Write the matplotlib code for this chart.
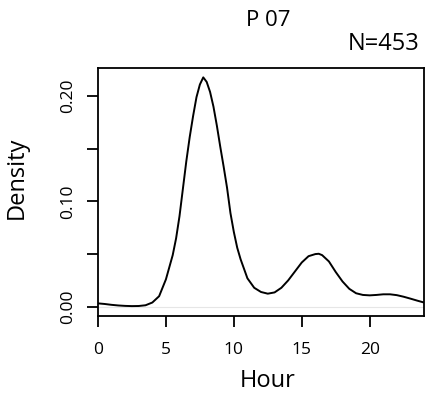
import numpy as np
import matplotlib
matplotlib.use('Agg')
import matplotlib.pyplot as plt

plt.rcParams['font.family'] = ['Open Sans', 'DejaVu Sans']

# density curve
hour = [0.0, 0.5, 1.0, 1.5, 2.0, 2.5, 3.0, 3.5, 4.0, 4.5, 5.0, 5.5, 5.75,
        6.0, 6.25, 6.5, 6.75, 7.0, 7.25, 7.5, 7.75, 8.0, 8.25, 8.5, 8.75,
        9.0, 9.25, 9.5, 9.75, 10.0, 10.25,
        10.5, 11.0, 11.5, 12.0, 12.5, 13.0, 13.5, 14.0, 14.5, 15.0, 15.5,
        16.0, 16.25, 16.5, 17.0, 17.5, 18.0, 18.5, 19.0, 19.5, 20.0, 20.5,
        21.0, 21.5, 22.0, 22.5, 23.0, 23.5, 24.0]
density = [0.0032, 0.0026, 0.0018, 0.0012, 0.0008, 0.0006, 0.0007, 0.0014,
           0.0040, 0.0100, 0.0260, 0.0490, 0.0650,
           0.0860, 0.1120, 0.1380, 0.1610, 0.1810, 0.1990, 0.2110, 0.2178,
           0.2135, 0.2040, 0.1900, 0.1720,
           0.1520, 0.1330, 0.1130, 0.0890, 0.0710, 0.0560,
           0.0450, 0.0270, 0.0180, 0.0140, 0.0124, 0.0136, 0.0180, 0.0250,
           0.0335, 0.0420, 0.0480,
           0.0500, 0.0503, 0.0490, 0.0430, 0.0330, 0.0240, 0.0170, 0.0128,
           0.0112, 0.0108, 0.0112,
           0.0118, 0.0118, 0.0110, 0.0095, 0.0077, 0.0058, 0.0040]

title = 'P 07'
n_label = 'N=453'
yticks = [0.0, 0.05, 0.10, 0.15, 0.20]
ytick_labels = ['0.00', '', '0.10', '', '0.20']
xticks = [0, 5, 10, 15, 20]

fig = plt.figure(figsize=(4.25, 3.98), dpi=100)
ax = fig.add_axes([98 / 425, 1 - 316 / 398, 326 / 425, 248 / 398])

ax.axhline(0, color='#e6e6e6', lw=0.8, zorder=1)
ax.plot(hour, density, color='black', lw=1.4, zorder=2)

ax.set_xlim(0, 24)
ax.set_ylim(-0.0088, 0.2267)

ax.set_xticks(xticks)
ax.set_xticklabels([str(x) for x in xticks], fontsize=12.5)
ax.set_yticks(yticks)
ax.set_yticklabels(ytick_labels, fontsize=12.5, rotation=90, va='center')
ax.tick_params(axis='both', direction='out', length=8, width=1.3)
ax.tick_params(axis='x', pad=11)
ax.tick_params(axis='y', pad=8)

for s in ax.spines.values():
    s.set_linewidth(1.3)

# axis labels placed where they sit in the picture
fig.text(268 / 425, 1 - 381 / 398, 'Hour', fontsize=17, ha='center', va='center')
fig.text(17 / 425, 1 - 178 / 398, 'Density', fontsize=17, ha='center',
         va='center', rotation=90)

fig.text(268 / 425, 1 - 20 / 398, title, fontsize=16, ha='center', va='center')
fig.text(419 / 425, 1 - 44 / 398, n_label, fontsize=17, ha='right', va='center')

fig.savefig('out.png', dpi=100)
